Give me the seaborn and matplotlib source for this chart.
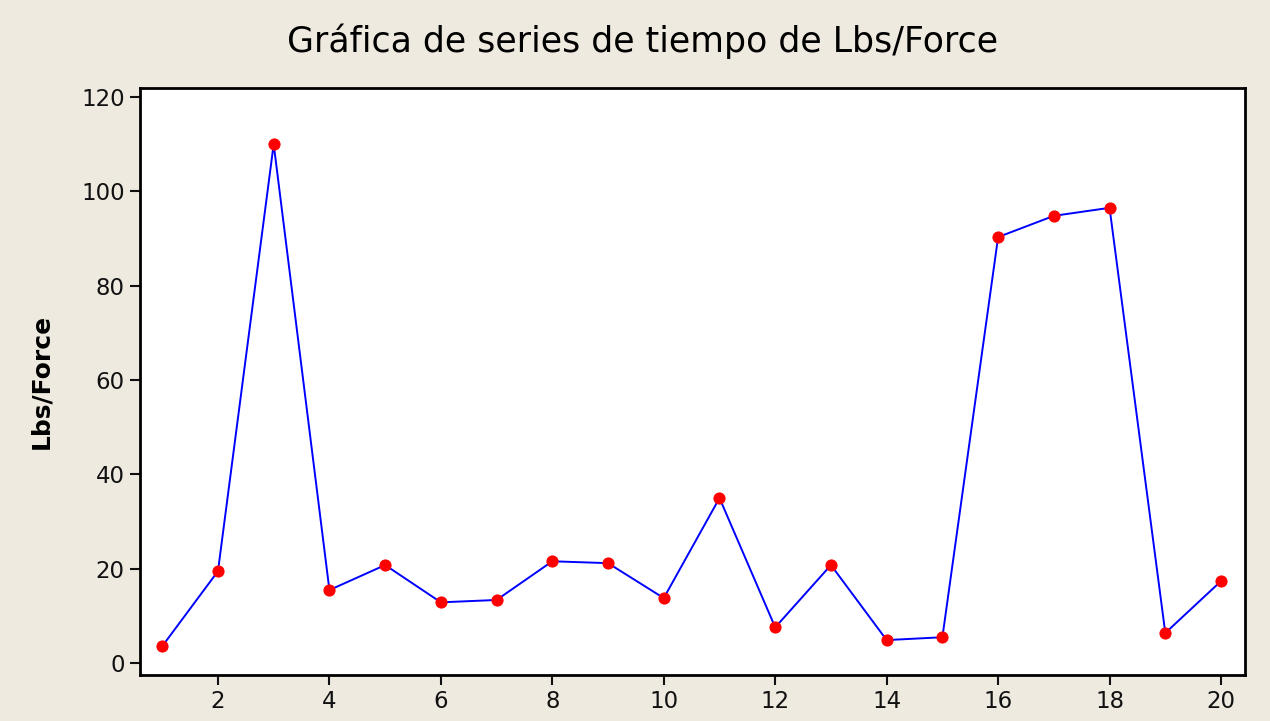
import matplotlib
matplotlib.use("Agg")
import matplotlib.pyplot as plt
import seaborn as sns
import pandas as pd

# Lbs/Force observations in time order
index = list(range(1, 21))
lbs_force = [3.6, 19.5, 110.0, 15.5, 20.8, 12.9, 13.4, 21.6, 21.2, 13.8,
             35.0, 7.6, 20.8, 4.9, 5.5, 90.3, 94.8, 96.5, 6.4, 17.4]
x_ticks = list(range(2, 21, 2))
y_ticks = list(range(0, 121, 20))

df = pd.DataFrame({"Índice": index, "Lbs/Force": lbs_force})

sns.set_theme(style="white")
plt.rcParams["font.family"] = ["DejaVu Sans"]

bg = "#EEEAE0"
fig = plt.figure(figsize=(12.7, 7.21), dpi=100, facecolor=bg)
ax = fig.add_axes([0.1102, 0.0638, 0.8701, 0.8142])
ax.set_facecolor("white")

sns.lineplot(data=df, x="Índice", y="Lbs/Force", ax=ax, color="#0000FF",
             linewidth=1.4, marker="o", markersize=8,
             markerfacecolor="#FF0000", markeredgecolor="#FF0000")

ax.set_xlim(0.6, 20.43)
ax.set_ylim(-2.5, 121.9)
ax.set_xticks(x_ticks)
ax.set_yticks(y_ticks)
ax.tick_params(axis="both", direction="out", length=7, width=1.5,
               labelsize=16.5, colors="#111111", pad=4, left=True, bottom=True)
for s in ax.spines.values():
    s.set_color("black")
    s.set_linewidth(2)

ax.set_xlabel("")
ax.set_ylabel("Lbs/Force", fontsize=18, fontweight="bold", color="black",
              labelpad=20)
fig.suptitle("Gráfica de series de tiempo de Lbs/Force", fontsize=25,
             color="black", x=0.506, y=0.968)

fig.savefig("out.png", dpi=100, facecolor=bg)
